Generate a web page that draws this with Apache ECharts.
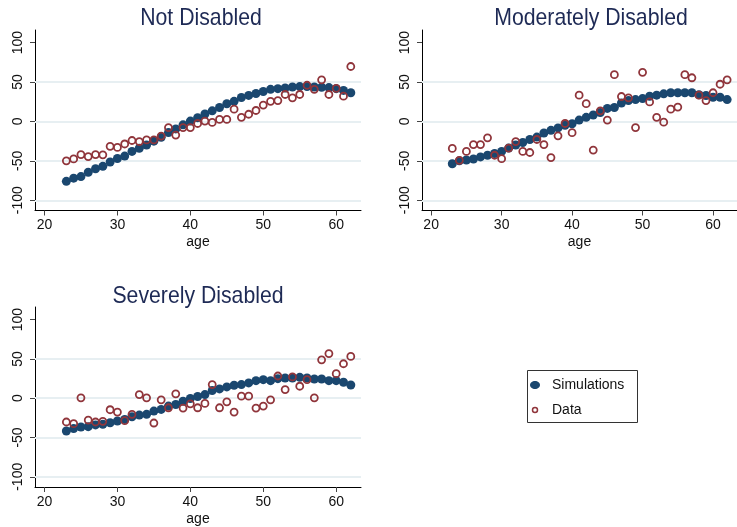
<!DOCTYPE html>
<html>
<head>
<meta charset="utf-8">
<script src="https://cdn.jsdelivr.net/npm/echarts@6.0.0/dist/echarts.min.js"></script>
<style>
html,body{margin:0;padding:0;background:#fff;}
#chart{width:737px;height:527px;}
</style>
</head>
<body>
<div id="chart"></div>
<script>
// ---------- data ----------
const ages = [23,24,25,26,27,28,29,30,31,32,33,34,35,36,37,38,39,40,41,42,
              43,44,45,46,47,48,49,50,51,52,53,54,55,56,57,58,59,60,61,62];

const simNot  = [-76,-72,-70,-64.5,-60,-57,-51.5,-47,-44,-38,-34,-30,-25,-20,-14,-9.5,-4.3,0.4,4.8,9.5,
                 13.4,17.7,22.5,25.5,30.3,33,35.5,38,40.7,41.6,42.4,43.7,44.2,44.2,43.7,43.3,42.9,41.6,39.4,36.4];
const dataNot = [-50,-47.6,-42,-44.6,-42,-42.4,-31.6,-33,-28.6,-24.2,-25.5,-23.4,-23.4,-18.6,-7.8,-17.3,-7.8,-7.8,-2.6,0.4,
                 -1.3,2.6,2.6,15.6,5.2,9.1,13.9,20.8,25.5,26.4,34.2,29.9,34.2,45.9,40.7,52.8,34.2,42,32,69.7];

const simMod  = [-53.7,-50,-49,-47.6,-45,-42.9,-40.7,-38,-33.8,-29.9,-26.8,-22.9,-19.9,-14.7,-11.3,-8.2,-4.8,-3,1.7,5.2,
                 8.2,11.3,16.5,17.7,23.4,26.4,27.7,29,32,33.3,35,36.4,36.4,36.4,36.4,33.8,32.9,30.7,30.7,27.7];
const dataMod = [-34.2,-49.4,-38,-29.4,-29.4,-20.8,-42.9,-47.2,-33.8,-25.5,-38,-39.4,-22.9,-29.4,-45.9,-18.2,-2.6,-14.3,33.3,22.5,
                 -36.4,13.4,1.7,59.3,31.6,29.9,-7.8,62.3,24.7,5.2,-0.9,15.6,18.2,59.3,55.4,33.3,26.4,36.4,47.2,52.8];

const simSev  = [-41.7,-38.7,-36.6,-36.2,-34,-33.3,-31.2,-29,-27,-23.6,-21.5,-20.6,-16.4,-14.3,-10.1,-8,-3.8,-0.4,2.1,4.6,
                 9.7,11.8,14.3,16.4,17.3,19.4,22.3,23.6,22.3,24.8,25.7,25.7,26.5,25.7,24.4,24.4,22.3,22.3,20.2,16.8];
const dataSev = [-30.3,-32.4,0.4,-27.8,-30.3,-29.5,-14.7,-17.7,-28.6,-20.6,4.6,0.4,-31.6,-2.1,-12.2,5.5,-12.6,-7.2,-12.2,-6.7,
                 17.3,-12.2,-4.6,-17.7,2.5,2.5,-12.6,-10.1,-2.1,28.2,10.9,27,15.2,23.6,0.4,48.8,56.8,31.2,43.8,53.1];

const panelTitles = ['Not Disabled', 'Moderately Disabled', 'Severely Disabled'];
const xTicks = [20, 30, 40, 50, 60];
const yTicks = [-100, -50, 0, 50, 100];
const yGridLines = [-100, -50, 0, 50];
const xAxisTitle = 'age';
const legendNames = ['Simulations', 'Data'];

// ---------- styling ----------
const NAVY = '#1a476f';
const MAROON = '#90353b';
const FONT = '"Liberation Sans", Arial, sans-serif';

const grids = [
  {left: 35,  top: 30,  width: 326, height: 180.5},
  {left: 422, top: 30,  width: 326, height: 180.5},
  {left: 35,  top: 307, width: 326, height: 180.5}
];
const titlePos = [[201, 18], [591, 18], [198, 296]];

function pairs(vals) { return ages.map((a, i) => [a, vals[i]]); }

const xAxes = grids.map((g, i) => ({
  type: 'value', gridIndex: i, min: 18.7, max: 63.4,
  name: xAxisTitle, nameLocation: 'middle', nameGap: 25,
  nameTextStyle: {fontSize: 14, color: '#111', fontFamily: FONT},
  axisLine: {show: true, onZero: false, lineStyle: {color: '#000', width: 1}},
  axisTick: {show: true, length: 5, customValues: xTicks, lineStyle: {color: '#444', width: 1}},
  axisLabel: {customValues: xTicks, fontSize: 14, color: '#111', fontFamily: FONT, margin: 8},
  splitLine: {show: false}
}));
const yAxes = grids.map((g, i) => ({
  type: 'value', gridIndex: i, min: -113, max: 116,
  axisLine: {show: true, onZero: false, lineStyle: {color: '#000', width: 1}},
  axisTick: {show: true, length: 5, customValues: yTicks, lineStyle: {color: '#444', width: 1}},
  axisLabel: {customValues: yTicks, fontSize: 14, color: '#111', fontFamily: FONT, rotate: 90, margin: 10},
  splitLine: {show: false}
}));

const simSets = [simNot, simMod, simSev];
const dataSets = [dataNot, dataMod, dataSev];
const series = [];
grids.forEach((g, i) => {
  series.push({
    type: 'scatter', name: 'grid' + i, xAxisIndex: i, yAxisIndex: i, data: [], silent: true,
    z: 1,
    markLine: {
      silent: true, symbol: 'none', z: 1, label: {show: false},
      lineStyle: {color: '#e7eff2', width: 2, type: 'solid'},
      data: yGridLines.map(v => ({yAxis: v}))
    }
  });
  series.push({
    type: 'scatter', name: legendNames[0], xAxisIndex: i, yAxisIndex: i,
    data: pairs(simSets[i]), symbol: 'circle', symbolSize: 9, z: 3,
    itemStyle: {color: NAVY, opacity: 1}
  });
  series.push({
    type: 'scatter', name: legendNames[1], xAxisIndex: i, yAxisIndex: i,
    data: pairs(dataSets[i]), symbol: 'circle', symbolSize: 7, z: 4,
    itemStyle: {color: 'rgba(0,0,0,0)', borderColor: MAROON, borderWidth: 1.8, opacity: 1}
  });
});

const graphic = [];
panelTitles.forEach((t, i) => {
  graphic.push({
    type: 'text', x: titlePos[i][0], y: titlePos[i][1], scaleX: 0.885, silent: true,
    style: {text: t, textAlign: 'center', textVerticalAlign: 'middle',
            font: '24px ' + FONT, fill: '#1e2a55'}
  });
});
// legend box
graphic.push({type: 'rect', shape: {x: 527.5, y: 370.5, width: 110, height: 52},
              style: {fill: '#fff', stroke: '#333', lineWidth: 1}, silent: true});
graphic.push({type: 'ellipse', shape: {cx: 535, cy: 385, rx: 5, ry: 4}, style: {fill: NAVY}, silent: true});
graphic.push({type: 'circle', shape: {cx: 535, cy: 410, r: 2.5}, style: {fill: 'none', stroke: MAROON, lineWidth: 1.5}, silent: true});
graphic.push({type: 'text', x: 552, y: 385, silent: true,
              style: {text: legendNames[0], textVerticalAlign: 'middle', font: '14px ' + FONT, fill: '#111'}});
graphic.push({type: 'text', x: 552, y: 410, silent: true,
              style: {text: legendNames[1], textVerticalAlign: 'middle', font: '14px ' + FONT, fill: '#111'}});

const chart = echarts.init(document.getElementById('chart'), null, {renderer: 'canvas'});
chart.setOption({
  animation: false,
  backgroundColor: '#fff',
  grid: grids,
  xAxis: xAxes,
  yAxis: yAxes,
  series: series,
  graphic: graphic
});
</script>
</body>
</html>
